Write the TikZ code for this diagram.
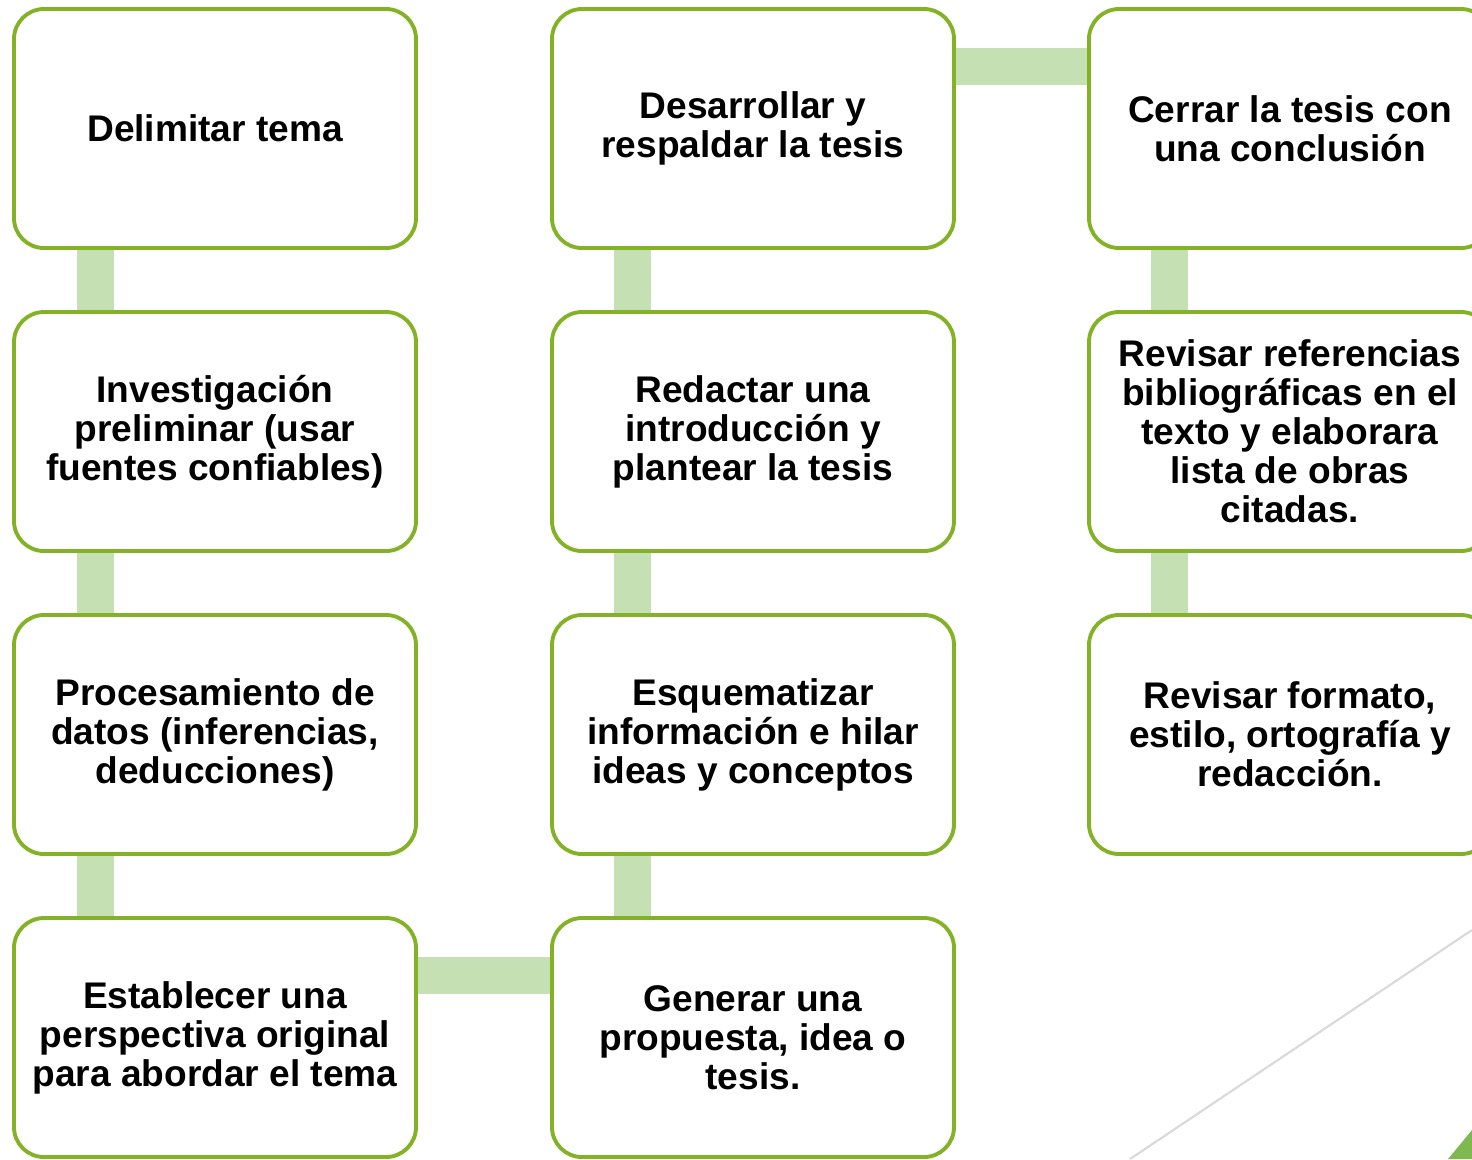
\documentclass[tikz,border=0pt]{standalone}
\usepackage{fontspec}
\setmainfont{Liberation Sans}
\usetikzlibrary{backgrounds}

\definecolor{borde}{RGB}{132,178,38}
\definecolor{barra}{RGB}{197,224,178}
\definecolor{diag}{RGB}{217,217,217}
\definecolor{punta}{RGB}{125,185,79}

\begin{document}
\begin{tikzpicture}[
          etapa/.style={draw=borde, line width=1.1pt, rounded corners=0.3cm, fill=white,
                        minimum width=4.02cm, minimum height=2.39cm, align=center,
                        font=\fontsize{10.55pt}{11.1pt}\selectfont\bfseries, inner sep=0},
          enlace/.style={draw=barra, line width=0.37cm}
        ]
        \useasboundingbox (0,0) rectangle (14.72,-11.59);
        \clip (0,0) rectangle (14.72,-11.59);

        % ---- first column ----
        \node[etapa] (delimitar)    at (2.15, -1.285) {Delimitar tema};
        \node[etapa] (investigar)   at (2.15, -4.315) {Investigación\\preliminar (usar\\fuentes confiables)};
        \node[etapa] (procesar)     at (2.15, -7.345) {Procesamiento de\\datos (inferencias,\\deducciones)};
        \node[etapa] (establecer)   at (2.15, -10.375) {Establecer una\\perspectiva original\\para abordar el tema};

        % ---- second column (bottom to top) ----
        \node[etapa] (generar)      at (7.53, -10.375) {Generar una\\propuesta, idea o\\tesis.};
        \node[etapa] (esquematizar) at (7.53, -7.345) {Esquematizar\\información e hilar\\ideas y conceptos};
        \node[etapa] (redactar)     at (7.53, -4.315) {Redactar una\\introducción y\\plantear la tesis};
        \node[etapa] (desarrollar)  at (7.53, -1.285) {Desarrollar y\\respaldar la tesis};

        % ---- third column (cut by the right edge) ----
        \node[etapa] (cerrar)       at (12.90, -1.285) {Cerrar la tesis con\\una conclusión};
        \node[etapa] (referencias)  at (12.90, -4.315) {Revisar referencias\\bibliográficas en el\\texto y elaborara\\lista de obras\\citadas.};
        \node[etapa] (formato)      at (12.90, -7.345) {Revisar formato,\\estilo, ortografía y\\redacción.};

        % ---- connecting bars, behind the boxes ----
        \begin{scope}[on background layer]
          \draw[enlace] ([xshift=-1.2cm]delimitar.south)    -- ([xshift=-1.2cm]investigar.north);
          \draw[enlace] ([xshift=-1.2cm]investigar.south)   -- ([xshift=-1.2cm]procesar.north);
          \draw[enlace] ([xshift=-1.2cm]procesar.south)     -- ([xshift=-1.2cm]establecer.north);
          \draw[enlace] ([yshift=0.62cm]establecer.east)    -- ([yshift=0.62cm]generar.west);
          \draw[enlace] ([xshift=-1.21cm]generar.north)     -- ([xshift=-1.21cm]esquematizar.south);
          \draw[enlace] ([xshift=-1.21cm]esquematizar.north) -- ([xshift=-1.21cm]redactar.south);
          \draw[enlace] ([xshift=-1.21cm]redactar.north)    -- ([xshift=-1.21cm]desarrollar.south);
          \draw[enlace] ([yshift=0.62cm]desarrollar.east)   -- ([yshift=0.62cm]cerrar.west);
          \draw[enlace] ([xshift=-1.21cm]cerrar.south)      -- ([xshift=-1.21cm]referencias.north);
          \draw[enlace] ([xshift=-1.21cm]referencias.south) -- ([xshift=-1.21cm]formato.north);

          % ---- slide decoration, bottom right ----
          \draw[diag, line width=0.6pt] (11.30,-11.59) -- (14.72,-9.30);
          \fill[punta] (14.48,-11.59) -- (14.72,-11.30) -- (14.72,-11.59) -- cycle;
        \end{scope}

      \end{tikzpicture}
\end{document}
